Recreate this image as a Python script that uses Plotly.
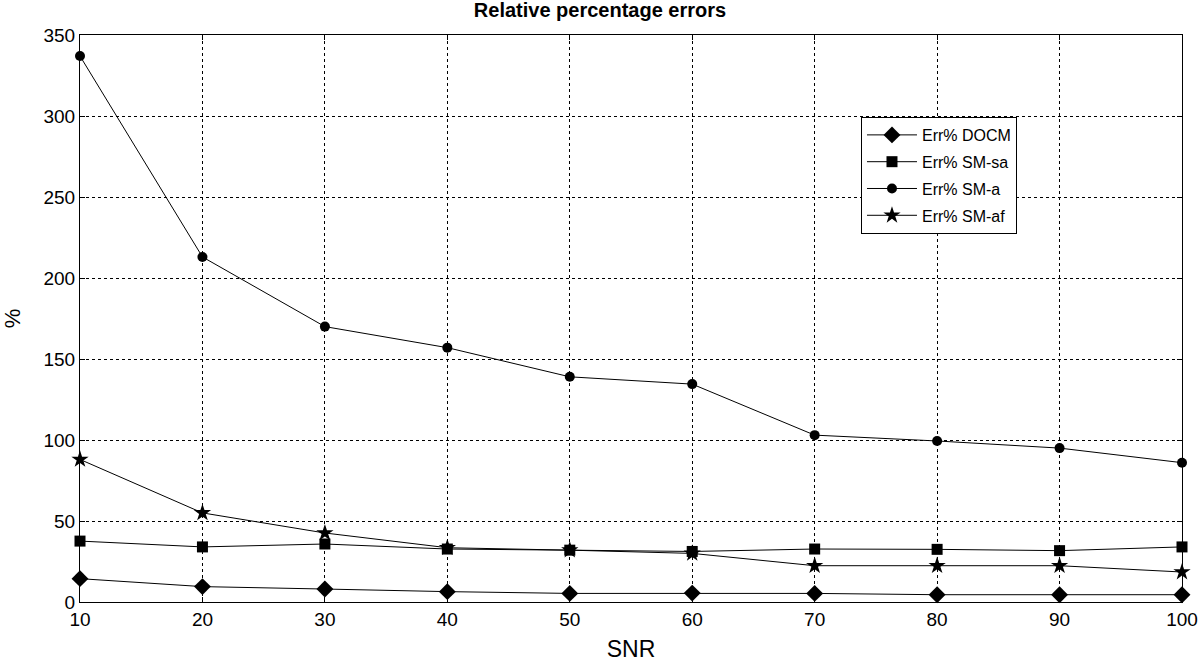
import plotly.graph_objects as go

snr = [10, 20, 30, 40, 50, 60, 70, 80, 90, 100]
err_docm = [14.4, 9.5, 8.0, 6.4, 5.3, 5.5, 5.3, 4.5, 4.5, 4.5]
err_sm_sa = [37.6, 34.0, 35.8, 32.7, 32.0, 31.2, 32.7, 32.5, 31.7, 34.0]
err_sm_a = [337, 213, 170, 157, 139, 134.5, 103, 99.4, 95, 86]
err_sm_af = [88, 55, 42.6, 33.5, 32.0, 30.0, 22.4, 22.4, 22.4, 18.5]

series = [
    ("Err% DOCM", err_docm, "diamond", 13),
    ("Err% SM-sa", err_sm_sa, "square", 11),
    ("Err% SM-a", err_sm_a, "circle", 10),
    ("Err% SM-af", err_sm_af, "star", 13),
]

fig = go.Figure()
for name, vals, sym, sz in series:
    fig.add_trace(go.Scatter(
        x=snr, y=vals, name=name, mode="lines+markers", legendgroup=name,
        line=dict(color="black", width=1),
        marker=dict(symbol=sym, size=sz, color="black"),
        cliponaxis=False,
    ))

font = "Liberation Sans, Arial, sans-serif"
fig.update_layout(
    width=1200, height=662,
    margin=dict(l=80, r=18, t=35, b=60, autoexpand=False),
    paper_bgcolor="white", plot_bgcolor="white",
    font=dict(family=font, size=19, color="black"),
    title=dict(text="<b>Relative percentage errors</b>", x=0.5, xanchor="center",
               y=0.996, yanchor="top", font=dict(size=20)),
    showlegend=True,
    legend=dict(x=0.7087, y=0.8554, xanchor="left", yanchor="top",
                bgcolor="white", bordercolor="black", borderwidth=1,
                font=dict(size=16), tracegroupgap=3, itemwidth=50,
                entrywidth=108, entrywidthmode="pixels"),
)
fig.update_xaxes(
    automargin=False,
    range=[10, 100], tickvals=snr, ticks="inside", ticklen=5, tickcolor="black",
    showline=True, linecolor="black", linewidth=1, mirror="ticks",
    showgrid=True, gridcolor="black", griddash="dot", gridwidth=1,
    zeroline=False,
    title=dict(text="SNR", font=dict(size=23), standoff=14),
)
fig.update_yaxes(
    automargin=False,
    range=[0, 350], tickvals=list(range(0, 351, 50)), ticks="inside", ticklen=5, tickcolor="black",
    showline=True, linecolor="black", linewidth=1, mirror="ticks",
    showgrid=True, gridcolor="black", griddash="dot", gridwidth=1,
    zeroline=False,
    title=dict(text="%", font=dict(size=22), standoff=18),
)
fig.write_html("out.html", config={"displayModeBar": False},
               post_script="document.body.style.margin='0';")
